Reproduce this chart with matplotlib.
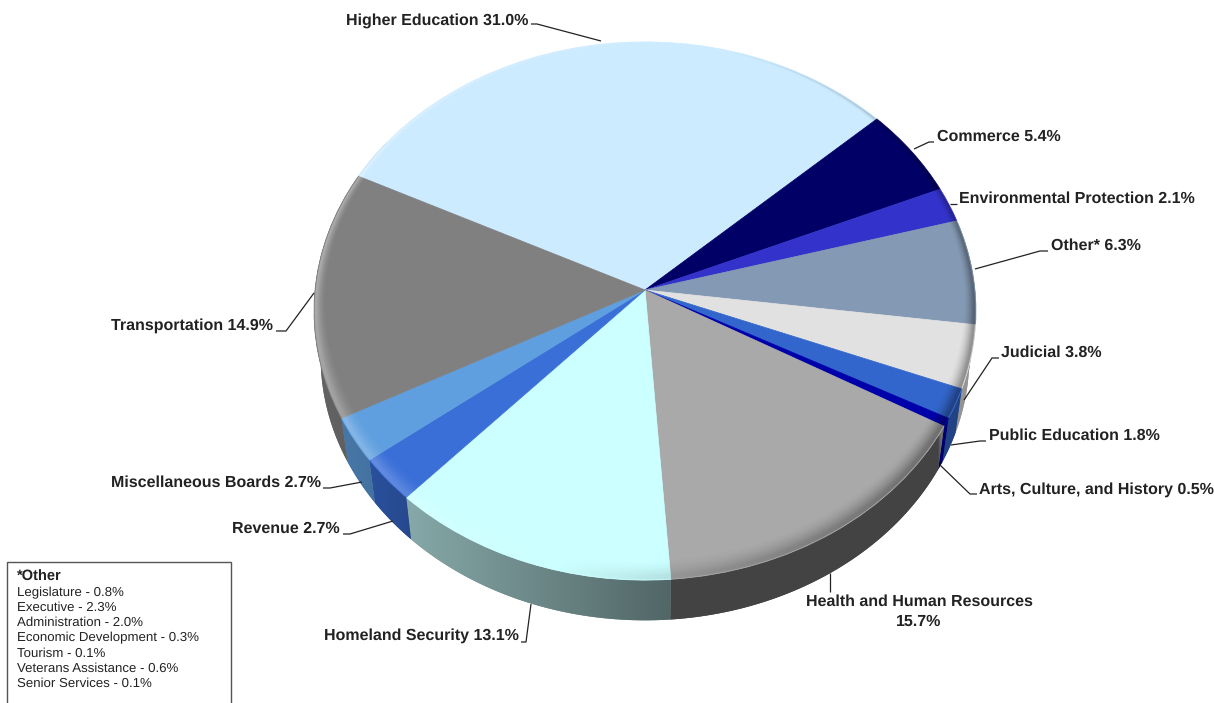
import numpy as np
import matplotlib
matplotlib.use("Agg")
import matplotlib.pyplot as plt
from matplotlib.transforms import Transform
from matplotlib.colors import to_rgb
from matplotlib.patches import Rectangle, Polygon

# ---- data ----
categories = ["Higher Education", "Commerce", "Environmental Protection", "Other*",
              "Judicial", "Public Education", "Arts, Culture, and History",
              "Health and Human Resources", "Homeland Security", "Revenue",
              "Miscellaneous Boards", "Transportation"]
values = [31.0, 5.4, 2.1, 6.3, 3.8, 1.8, 0.5, 15.7, 13.1, 2.7, 2.7, 14.9]
colors = ["#CCEBFF", "#000066", "#3333CC", "#8499B3", "#E1E1E1", "#3366CC", "#0000AA",
          "#A9A9A9", "#CCFFFF", "#3B6FD8", "#5F9FDF", "#808080"]
other_title = "*Other"
other_items = ["Legislature - 0.8%", "Executive - 2.3%", "Administration - 2.0%",
               "Economic Development - 0.3%", "Tourism - 0.1%",
               "Veterans Assistance - 0.6%", "Senior Services - 0.1%"]

# label text, anchor x, y, ha ; leader polyline in picture pixels
labels = [
    ("Higher Education 31.0%", 528, 21, "right", [(531, 24), (537, 24), (601, 41)]),
    ("Commerce 5.4%", 937, 137, "left", [(934, 142), (929, 142), (914, 149)]),
    ("Environmental Protection 2.1%", 959, 199, "left", [(957, 204), (950, 204)]),
    ("Other* 6.3%", 1051, 246, "left", [(1048, 251), (1040, 251), (975, 269)]),
    ("Judicial 3.8%", 1001, 353, "left", [(999, 358), (992, 358), (964, 400)]),
    ("Public Education 1.8%", 989, 436, "left", [(986, 441), (980, 441), (951, 445)]),
    ("Arts, Culture, and History 0.5%", 979, 490, "left", [(977, 494), (970, 494), (940, 465)]),
    ("Homeland Security 13.1%", 519, 636, "right", [(521, 642), (526, 642), (531, 604)]),
    ("Revenue 2.7%", 340, 529, "right", [(343, 534), (350, 534), (393, 521)]),
    ("Miscellaneous Boards 2.7%", 321, 483, "right", [(323, 488), (330, 488), (362, 482)]),
    ("Transportation 14.9%", 273, 326, "right", [(276, 331), (286, 331), (314, 293)]),
    ("Health and Human Resources\n15.7%", 919, 612, "center", [(830, 573), (830, 592)]),
]
START_ANGLE = 153.9


class Persp(Transform):
    input_dims = output_dims = 2
    is_separable = False
    has_inverse = False

    def __init__(self, cx, cy, b, a, k):
        super().__init__()
        self.p = (cx, cy, b, a, k)

    def transform_non_affine(self, values):
        cx, cy, b, a, k = self.p
        values = np.asarray(values, float)
        d = 1 + k * values[:, 1]
        return np.column_stack([cx + b * values[:, 0] / d, cy - a * values[:, 1] / d])

    def unproject(self, x, y):
        cx, cy, b, a, k = self.p
        dy = cy - y
        v = dy / (a - k * dy)
        u = (x - cx) * (1 + k * v) / b
        return u, v


top = Persp(645, 290, 330, 267.5, 0.078)
low = Persp(645, 336, 330 * 0.98, 267.5 * 0.98, 0.078)

plt.rcParams["font.family"] = ["Liberation Sans", "DejaVu Sans"]
plt.rcParams["text.hinting"] = "no_hinting"
plt.rcParams["text.hinting_factor"] = 8
fig = plt.figure(figsize=(12.14, 7.03), dpi=100)
ax = fig.add_axes([0, 0, 1, 1])

wedges, _ = ax.pie(values, colors=colors, startangle=START_ANGLE, counterclock=False,
                   radius=1, wedgeprops=dict(linewidth=0.5))
ax.set_aspect("auto")
for w, c in zip(wedges, colors):
    w.set_edgecolor(c)
    w.set_transform(top + ax.transData)
    w.set_zorder(5)
    w.set_clip_on(False)

# slice boundaries (degrees, going clockwise)
cum = np.concatenate([[0], np.cumsum(values)])
t0 = START_ANGLE - cum[:-1] / cum[-1] * 360
t1 = START_ANGLE - cum[1:] / cum[-1] * 360


def unit(th):
    r = np.radians(th)
    return np.column_stack([np.cos(r), np.sin(r)])


# ---- side wall: one polygon per slice, shaded across x ----
SIDE_X = [314, 372, 408, 671, 938, 941, 977]
SIDE_F = [0.78, 0.72, 0.66, 0.40, 0.40, 0.66, 0.66]
row_x = np.arange(0, 1214) + 0.5
row_f = np.interp(row_x, SIDE_X, SIDE_F)
for a0, a1, c in zip(t0, t1, colors):
    for shift in (0, -360):
        hi, lo = min(a0 + shift, 15), max(a1 + shift, -215)
        if hi <= lo:
            continue
        ths = np.linspace(hi, lo, int(hi - lo) * 2 + 2)
        u = unit(ths)
        poly = np.vstack([top.transform_non_affine(u), low.transform_non_affine(u)[::-1]])
        base = np.array(to_rgb(c))
        p = Polygon(poly, closed=True, facecolor=base * np.interp(poly[:, 0].mean(), row_x, row_f),
                    edgecolor="none", zorder=3)
        ax.add_patch(p)
        img = (base[None, None, :] * row_f[None, :, None])
        im = ax.imshow(img, extent=(0, 1214, 703, 0), aspect="auto", zorder=3.5,
                       interpolation="bilinear")
        im.set_clip_path(p)

# ---- bevel on the rim of the top, laid over the wedges ----
xx, yy = np.meshgrid(np.arange(1214) + 0.5, np.arange(703) + 0.5)
uu, vv = top.unproject(xx, yy)
rr = np.hypot(uu, vv)
ss = vv / np.maximum(rr, 1e-6)
cc = uu / np.maximum(rr, 1e-6)
width = np.where(ss > 0, 0.036 - 0.024 * ss, 0.036 + 0.036 * (-ss))
tt = np.clip((rr - (1 - width)) / width, 0, 1)
prof = tt ** 1.7 * (1 - 0.3 * np.clip((tt - 0.8) / 0.2, 0, 1))
ang = np.radians(15)
light = -(cc * np.cos(ang) - ss * np.sin(ang))
alpha = prof * np.where(light > 0, 0.48 * light, 0.5 * (-light))
alpha *= np.clip((1 - rr) * 300, 0, 1)
rgba = np.zeros(xx.shape + (4,))
rgba[..., :3] = (light > 0)[..., None].astype(float)
rgba[..., 3] = alpha
ax.imshow(rgba, extent=(0, 1214, 703, 0), aspect="auto", zorder=6, interpolation="nearest")

ax.set_xlim(0, 1214)
ax.set_ylim(703, 0)
ax.axis("off")

# ---- labels and leaders ----
TXT = "#222222"
for text, x, y, ha, pts in labels:
    ax.text(x, y, text, ha=ha, va="center", fontsize=11.5, fontweight="bold",
            color=TXT, zorder=9, linespacing=1.45 if "\n" in text else 1.2,
            multialignment="center")
    xs, ys = zip(*pts)
    ax.plot(xs, ys, color="#222222", lw=0.9, zorder=8, solid_capstyle="butt")

# ---- box for the breakdown of Other ----
ax.add_patch(Rectangle((7, 562), 224, 150, facecolor="white", edgecolor="#555555",
                       lw=1.0, zorder=8, clip_on=True))
ax.text(17, 576.5, other_title, ha="left", va="center", fontsize=10.5, fontweight="bold",
        color=TXT, zorder=9)
for i, item in enumerate(other_items):
    ax.text(17, 592.5 + i * 15.2, item, ha="left", va="center", fontsize=9.5,
            color="#222222", zorder=9)

fig.savefig("out.png", dpi=100)
